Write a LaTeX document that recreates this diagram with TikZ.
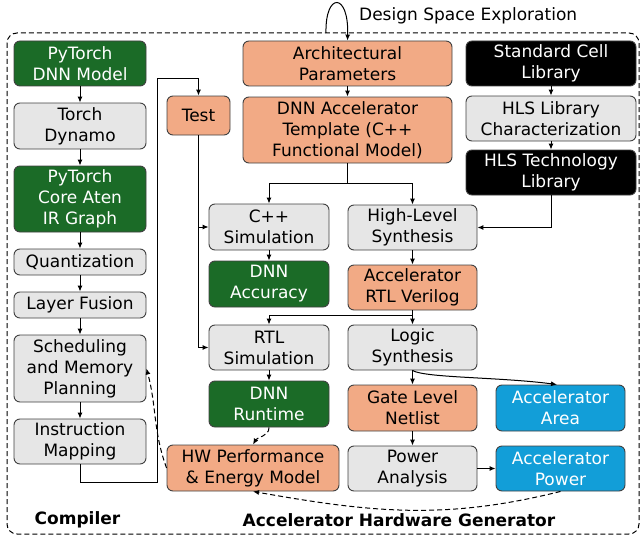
\documentclass[tikz,border=0pt]{standalone}
\usepackage{fontspec}
\setmainfont{DejaVu Sans}
\usetikzlibrary{arrows.meta}
\definecolor{dgreen}{HTML}{1B6B27}
\definecolor{salmon}{HTML}{F2AA85}
\definecolor{lgray}{HTML}{E6E6E6}
\definecolor{skyblue}{HTML}{129ED8}

\begin{document}
\begin{tikzpicture}[x=1pt,y=1pt,
  box/.style={draw=black!75, line width=0.9pt, rounded corners=6pt, align=center,
    inner sep=0pt, font=\fontsize{17}{21}\selectfont},
  greenbox/.style={box, fill=dgreen, text=white},
  graybox/.style={box, fill=lgray, text=black},
  salmonbox/.style={box, fill=salmon, text=black},
  blackbox/.style={box, fill=black, text=white},
  bluebox/.style={box, fill=skyblue, text=white},
  arr/.style={-{Latex[length=6pt,width=5pt]}, line width=1pt},
  plain/.style={line width=1pt},
  dasharr/.style={arr, dash pattern=on 5pt off 3pt},
  title/.style={font=\bfseries\fontsize{17}{21}\selectfont},
]
\useasboundingbox (0,0) rectangle (640,-535);

% outer frame
\draw[line width=1pt, dash pattern=on 5pt off 3pt, rounded corners=10pt]
  (7,-33) rectangle (639,-534);

% compiler column
\node[greenbox, minimum width=132, minimum height=45] (m1) at (80,-63.5) {PyTorch\\DNN Model};
\node[graybox, minimum width=132, minimum height=46] (m2) at (80,-126) {Torch\\Dynamo};
\node[greenbox, minimum width=132, minimum height=66] (m3) at (80,-199) {PyTorch\\Core Aten\\IR Graph};
\node[graybox, minimum width=132, minimum height=26] (m4) at (80,-262) {Quantization};
\node[graybox, minimum width=132, minimum height=26] (m5) at (80,-305) {Layer Fusion};
\node[graybox, minimum width=132, minimum height=67] (m6) at (80,-368.5) {Scheduling\\and Memory\\Planning};
\node[graybox, minimum width=132, minimum height=45] (m7) at (80,-441.5) {Instruction\\Mapping};

% simulation column
\node[salmonbox, minimum width=63, minimum height=39] (test) at (198.5,-115.5) {Test};
\node[graybox, minimum width=120, minimum height=46] (cpp) at (269,-227) {C++\\Simulation};
\node[greenbox, minimum width=120, minimum height=46] (acc) at (269,-284) {DNN\\Accuracy};
\node[graybox, minimum width=120, minimum height=45] (rtlsim) at (269,-347.5) {RTL\\Simulation};
\node[greenbox, minimum width=120, minimum height=46] (runtime) at (269,-404) {DNN\\Runtime};
\node[salmonbox, minimum width=172, minimum height=46] (hw) at (253,-468) {HW Performance\\\& Energy Model};

% hardware generation column
\node[salmonbox, minimum width=209, minimum height=45] (arch) at (347.5,-63.5) {Architectural\\Parameters};
\node[salmonbox, minimum width=209, minimum height=66] (tmpl) at (347.5,-130) {DNN Accelerator\\Template (C++\\Functional Model)};
\node[graybox, minimum width=129, minimum height=45] (hls) at (412.5,-227.5) {High-Level\\Synthesis};
\node[salmonbox, minimum width=129, minimum height=45] (rtlv) at (412.5,-287.5) {Accelerator\\RTL Verilog};
\node[graybox, minimum width=129, minimum height=45] (ls) at (412.5,-347.5) {Logic\\Synthesis};
\node[salmonbox, minimum width=129, minimum height=46] (gate) at (412.5,-408) {Gate Level\\Netlist};
\node[graybox, minimum width=129, minimum height=45] (pa) at (412.5,-468.5) {Power\\Analysis};
\node[bluebox, minimum width=129, minimum height=46] (area) at (560.5,-408) {Accelerator\\Area};
\node[bluebox, minimum width=129, minimum height=45] (power) at (560.5,-468.5) {Accelerator\\Power};

% technology libraries
\node[blackbox, minimum width=170, minimum height=45] (std) at (551,-63.5) {Standard Cell\\Library};
\node[graybox, minimum width=170, minimum height=45] (char) at (551,-118.5) {HLS Library\\Characterization};
\node[blackbox, minimum width=170, minimum height=45] (tech) at (551,-172.5) {HLS Technology\\Library};

% labels
\node[title] (lcomp) at (77.5,-520) {Compiler};
\node[title] (lgen) at (399,-520) {Accelerator Hardware Generator};
\node[font=\fontsize{17}{21}\selectfont, anchor=west, inner sep=0pt] (ldse) at (359,-16) {Design Space Exploration};

% compiler flow
\draw[arr] (m1) -- (m2);
\draw[arr] (m2) -- (m3);
\draw[arr] (m3) -- (m4);
\draw[arr] (m4) -- (m5);
\draw[arr] (m5) -- (m6);
\draw[arr] (m6) -- (m7);

% compiled program feeds the tests
\coordinate (loopB) at (157,-482);
\coordinate (loopT) at (157,-79);
\draw[arr] (m7.south) |- (loopB) -- (loopT) -| (test.north);
\draw[arr] (test.south) |- (rtlsim.west);
\draw[arr] (test.south |- cpp.west) -- (cpp.west);

% accelerator template split
\coordinate (split) at (347.5,-183);
\draw[arr] (arch) -- (tmpl);
\draw[plain] (tmpl.south) -- (split);
\draw[arr] (split) -| (cpp.north);
\draw[arr] (split) -| (hls.north);

% library chain
\draw[arr] (std) -- (char);
\draw[arr] (char) -- (tech);
\draw[arr] (tech.south) |- (hls.east);

% hardware flow
\coordinate (vsplit) at (412.5,-315);
\draw[arr] (hls) -- (rtlv);
\draw[arr] (rtlv) -- (ls);
\draw[arr] (vsplit) -| (rtlsim.north);
\draw[arr] (cpp) -- (acc);
\draw[arr] (rtlsim) -- (runtime);
\draw[arr] (ls) -- (gate);
\draw[arr] (gate) -- (pa);
\draw[arr] (pa.east |- power.west) -- (power.west);
\draw[arr] (ls.south) .. controls (425,-378) and (500,-377) .. (area.north -| 557,0);

% performance model feedback
\draw[dasharr] (runtime.south) to[out=-90,in=60] (hw.north);
\draw[dasharr] (hw.west) to[out=110,in=-75] (m6.east);
\draw[dasharr] (power.south) to[out=-166,in=-10] (hw.south);

% design space exploration loop
\coordinate (dseA) at (326,-33);
\draw[arr] (dseA) .. controls (325,8) and (349,8) .. (arch.north);
\end{tikzpicture}
\end{document}
